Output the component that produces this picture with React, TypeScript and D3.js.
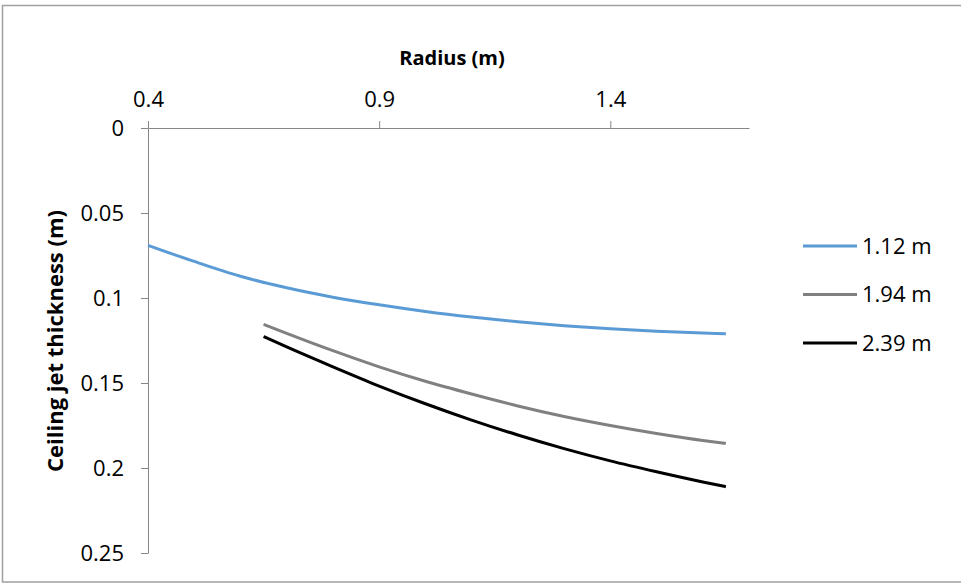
import React, { useEffect, useRef } from 'react';
import * as d3 from 'd3';

// radius (m) for the lowest ceiling height
const radiusLow = [0.4, 0.5, 0.6, 0.7, 0.8, 0.9, 1.0, 1.1, 1.2, 1.3, 1.4, 1.5, 1.6, 1.65];
const thickness112 = [0.069, 0.0785, 0.0872, 0.094, 0.0995, 0.104, 0.1079, 0.1112, 0.114, 0.1163, 0.1181, 0.1195, 0.1206, 0.121];

// radius (m) for the two higher ceilings
const radiusHigh = [0.65, 0.7, 0.8, 0.9, 1.0, 1.1, 1.2, 1.3, 1.4, 1.5, 1.6, 1.65];
const thickness194 = [0.1155, 0.1208, 0.131, 0.1405, 0.149, 0.1565, 0.1635, 0.1697, 0.175, 0.1797, 0.1838, 0.1855];
const thickness239 = [0.1227, 0.1288, 0.1405, 0.1518, 0.1622, 0.1718, 0.1806, 0.1886, 0.1958, 0.2022, 0.2082, 0.211];

const seriesNames = ['1.12 m', '1.94 m', '2.39 m'];
const seriesColors = ['#5b9bd5', '#808080', '#000000'];

const xTicks = [0.4, 0.9, 1.4];
const yTicks = [0, 0.05, 0.1, 0.15, 0.2, 0.25];

const W = 961;
const H = 584;
const FONT = '"Open Sans", sans-serif';

const App = () => {
  const svgRef = useRef<SVGSVGElement>(null);

  useEffect(() => {
    const svg = d3.select(svgRef.current);
    svg.selectAll('*').remove();

    const margin = { top: 128, left: 148, right: 212, bottom: 31 };
    const x = d3.scaleLinear().domain([0.4, 1.7]).range([margin.left, W - margin.right]);
    const y = d3.scaleLinear().domain([0, 0.25]).range([margin.top, H - margin.bottom]);

    // chart border
    svg.append('rect')
      .attr('x', 2.5).attr('y', 5.5)
      .attr('width', W).attr('height', 576.5)
      .attr('fill', '#fff')
      .attr('stroke', '#a0a0a0')
      .attr('stroke-width', 1.5);

    const series = [
      { name: seriesNames[0], xs: radiusLow, ys: thickness112 },
      { name: seriesNames[1], xs: radiusHigh, ys: thickness194 },
      { name: seriesNames[2], xs: radiusHigh, ys: thickness239 },
    ];

    const line = d3.line<[number, number]>()
      .x(d => x(d[0]))
      .y(d => y(d[1]))
      .curve(d3.curveMonotoneX);

    const styleAxis = (g: any) => {
      g.select('.domain').attr('stroke', '#868686');
      g.selectAll('.tick line').attr('stroke', '#868686');
      g.selectAll('.tick text')
        .attr('fill', '#000')
        .attr('font-family', FONT)
        .attr('font-size', 22);
    };

    svg.append('g')
      .attr('transform', `translate(0,${margin.top})`)
      .call(d3.axisTop(x).tickValues(xTicks).tickFormat(d => String(d)).tickSize(7).tickSizeOuter(0).tickPadding(14))
      .call(styleAxis);

    svg.append('g')
      .attr('transform', `translate(${margin.left},0)`)
      .call(d3.axisLeft(y).tickValues(yTicks).tickFormat(d => String(d)).tickSize(7).tickSizeOuter(0).tickPadding(17))
      .call(styleAxis);

    series.forEach((s, i) => {
      svg.append('path')
        .datum(s.xs.map((r, k) => [r, s.ys[k]] as [number, number]))
        .attr('d', line)
        .attr('fill', 'none')
        .attr('stroke', seriesColors[i])
        .attr('stroke-width', 3);
    });

    // axis titles
    svg.append('text')
      .attr('x', 452).attr('y', 65)
      .attr('text-anchor', 'middle')
      .attr('font-family', FONT)
      .attr('font-weight', 'bold')
      .attr('font-size', 20)
      .text('Radius (m)');

    svg.append('text')
      .attr('transform', 'translate(63,341) rotate(-90)')
      .attr('text-anchor', 'middle')
      .attr('font-family', FONT)
      .attr('font-weight', 'bold')
      .attr('font-size', 22)
      .text('Ceiling jet thickness (m)');

    // legend
    const legend = svg.append('g');
    series.forEach((s, i) => {
      const ly = 246 + i * 48.5;
      legend.append('line')
        .attr('x1', 803).attr('x2', 857)
        .attr('y1', ly).attr('y2', ly)
        .attr('stroke', seriesColors[i])
        .attr('stroke-width', 3);
      legend.append('text')
        .attr('x', 862).attr('y', ly)
        .attr('dy', '0.35em')
        .attr('font-family', FONT)
        .attr('font-size', 22)
        .text(s.name);
    });
  }, []);

  return (
    <svg ref={svgRef} width={W} height={H} style={{ position: 'absolute', left: 0, top: 0 }}></svg>
  );
};

export default App;
